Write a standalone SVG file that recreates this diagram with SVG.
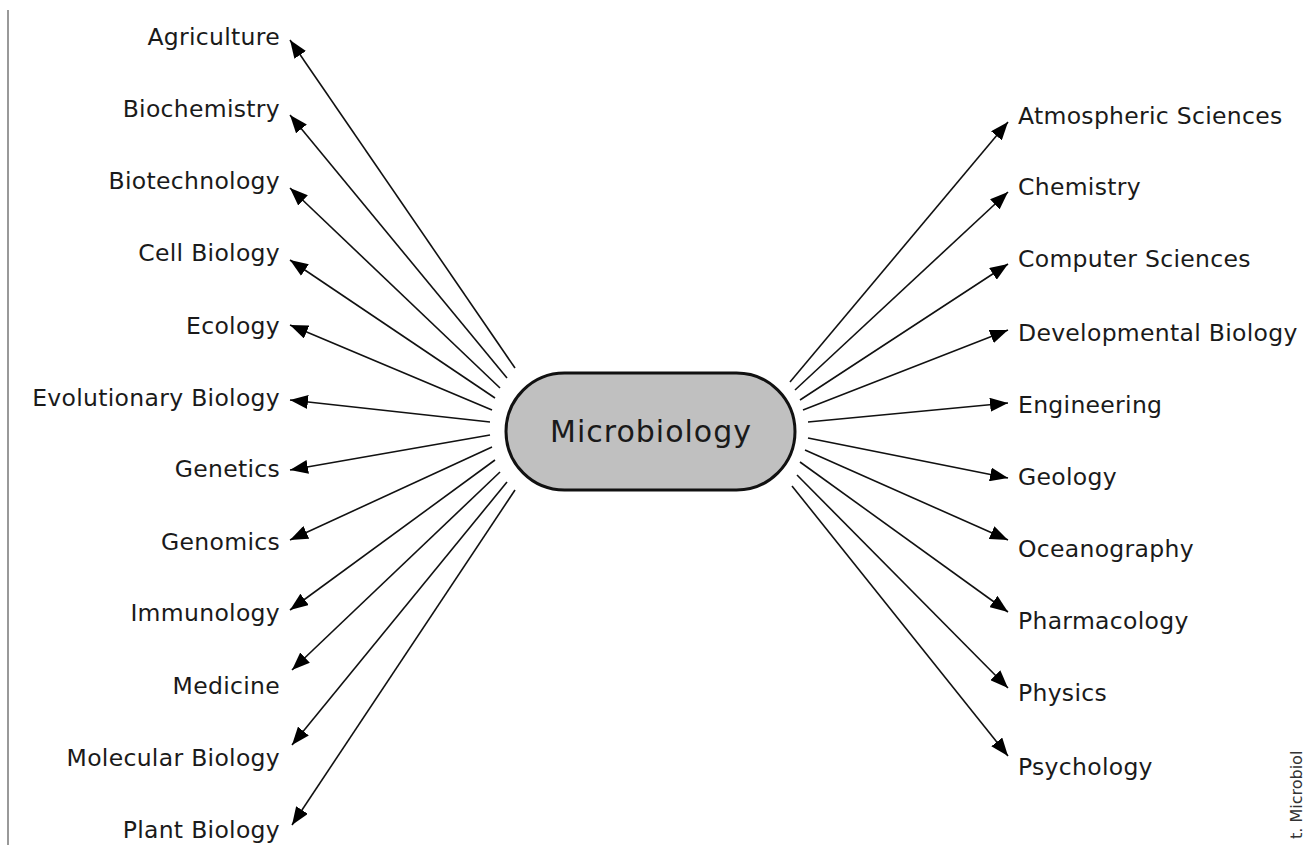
<svg xmlns="http://www.w3.org/2000/svg" width="1305" height="845" viewBox="0 0 1305 845">
<style>
.lbl{font-family:"DejaVu Sans","Noto Sans",sans-serif;font-size:23.5px;fill:#1a1a1a;letter-spacing:0.3px}
.l{text-anchor:end}
.r{text-anchor:start}
.cn line{stroke:#111;stroke-width:1.6;marker-end:url(#ah)}
</style>
<defs>
<marker id="ah" markerUnits="userSpaceOnUse" markerWidth="20" markerHeight="14" refX="18" refY="7" orient="auto">
<path d="M0,0 L18,7 L0,14 Z" fill="#000"/>
</marker>
</defs>
<rect width="1305" height="845" fill="#fff"/>
<line x1="8" y1="10" x2="8" y2="845" stroke="#999" stroke-width="2"/>
<g class="cn" id="connectors">
<line x1="515" y1="368" x2="290" y2="40"/>
<line x1="507" y1="378" x2="290" y2="115"/>
<line x1="500" y1="388" x2="290" y2="188"/>
<line x1="495" y1="398" x2="290" y2="260"/>
<line x1="492" y1="410" x2="290" y2="325"/>
<line x1="490" y1="422" x2="290" y2="400"/>
<line x1="490" y1="435" x2="290" y2="470"/>
<line x1="492" y1="447" x2="290" y2="540"/>
<line x1="495" y1="460" x2="290" y2="610"/>
<line x1="500" y1="472" x2="292" y2="670"/>
<line x1="507" y1="482" x2="292" y2="745"/>
<line x1="515" y1="490" x2="292" y2="825"/>
<line x1="790" y1="382" x2="1008" y2="122"/>
<line x1="795" y1="390" x2="1008" y2="192"/>
<line x1="800" y1="400" x2="1008" y2="264"/>
<line x1="803" y1="410" x2="1008" y2="330"/>
<line x1="808" y1="422" x2="1008" y2="403"/>
<line x1="808" y1="438" x2="1008" y2="478"/>
<line x1="805" y1="450" x2="1008" y2="540"/>
<line x1="800" y1="462" x2="1008" y2="612"/>
<line x1="797" y1="475" x2="1008" y2="688"/>
<line x1="792" y1="486" x2="1008" y2="756"/>
</g>
<g id="microbiology">
<rect x="506" y="373" width="289" height="117" rx="58.5" ry="58.5" fill="#c0c0c0" stroke="#111" stroke-width="3"/>
<text x="651" y="442" text-anchor="middle" font-family="DejaVu Sans,Noto Sans,sans-serif" font-size="30" letter-spacing="1" fill="#1a1a1a">Microbiology</text>
</g>
<g id="agriculture"><text class="lbl l" x="280" y="45">Agriculture</text></g>
<g id="biochemistry"><text class="lbl l" x="280" y="117">Biochemistry</text></g>
<g id="biotechnology"><text class="lbl l" x="280" y="189">Biotechnology</text></g>
<g id="cellbiology"><text class="lbl l" x="280" y="261">Cell Biology</text></g>
<g id="ecology"><text class="lbl l" x="280" y="334">Ecology</text></g>
<g id="evolutionary"><text class="lbl l" x="280" y="406">Evolutionary Biology</text></g>
<g id="genetics"><text class="lbl l" x="280" y="477">Genetics</text></g>
<g id="genomics"><text class="lbl l" x="280" y="550">Genomics</text></g>
<g id="immunology"><text class="lbl l" x="280" y="621">Immunology</text></g>
<g id="medicine"><text class="lbl l" x="280" y="694">Medicine</text></g>
<g id="molecular"><text class="lbl l" x="280" y="766">Molecular Biology</text></g>
<g id="plant"><text class="lbl l" x="280" y="838">Plant Biology</text></g>
<g id="atmospheric"><text class="lbl r" x="1018" y="124">Atmospheric Sciences</text></g>
<g id="chemistry"><text class="lbl r" x="1018" y="195">Chemistry</text></g>
<g id="computer"><text class="lbl r" x="1018" y="267">Computer Sciences</text></g>
<g id="developmental"><text class="lbl r" x="1018" y="341">Developmental Biology</text></g>
<g id="engineering"><text class="lbl r" x="1018" y="413">Engineering</text></g>
<g id="geology"><text class="lbl r" x="1018" y="485">Geology</text></g>
<g id="oceanography"><text class="lbl r" x="1018" y="557">Oceanography</text></g>
<g id="pharmacology"><text class="lbl r" x="1018" y="629">Pharmacology</text></g>
<g id="physics"><text class="lbl r" x="1018" y="701">Physics</text></g>
<g id="psychology"><text class="lbl r" x="1018" y="775">Psychology</text></g>
<text x="1302" y="845" transform="rotate(-90 1302 845)" font-family="DejaVu Sans,sans-serif" font-size="16" fill="#333" dx="6">t. Microbiol</text>
</svg>
